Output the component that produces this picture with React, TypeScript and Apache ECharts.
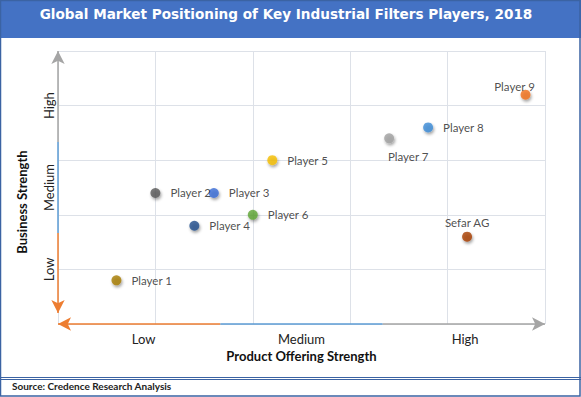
import React, { useEffect, useRef } from "react";
import * as echarts from "echarts";

const players = ["Player 1", "Player 2", "Player 3", "Player 4", "Player 5", "Player 6", "Player 7", "Player 8", "Player 9", "Sefar AG"];
const productStrength = [0.6, 1.0, 1.6, 1.4, 2.2, 2.0, 3.4, 3.8, 4.8, 4.2];
const businessStrength = [0.8, 2.4, 2.4, 1.8, 3.0, 2.0, 3.4, 3.6, 4.2, 1.6];
const playerColors = ["#a67c00", "#595959", "#3a6ad4", "#1f4e8c", "#f5be00", "#5fa535", "#a0a0a0", "#3b8bd6", "#f0701c", "#a83f06"];
const labelPlacement = ["right", "right", "right", "right", "right", "right", "below", "right", "above", "above"];

const levelLabels = ["Low", "Medium", "High"];
const xLevelValues = [0.88, 2.5, 4.18];
const yLevelValues = [1, 2.5, 4];

const title = "Global Market Positioning of Key Industrial Filters Players, 2018";
const xName = "Product Offering Strength";
const yName = "Business Strength";
const source = "Source: Credence Research Analysis";

const FONT = "Lato, 'Open Sans', sans-serif";

export default function App() {
  const ref = useRef<HTMLDivElement>(null);
  useEffect(() => {
    if (!ref.current) return;
    const chart = echarts.init(ref.current, null, { renderer: "svg" });

    const labelFor = (p: string) => {
      if (p === "below") return { position: "bottom", offset: [19, 2] };
      if (p === "above") return { position: "top", distance: 3 };
      return { position: "right", distance: 10 };
    };

    const data = players.map((name, i) => {
      const lp: any = labelFor(labelPlacement[i]);
      const item: any = {
        name,
        value: [productStrength[i], businessStrength[i]],
        itemStyle: { color: playerColors[i] },
        label: { show: true, formatter: name, ...lp },
      };
      if (name === "Player 9") item.label.offset = [-11, 6];
      return item;
    });

    const third = 5 / 3;
    const seg = (a: number[], b: number[], color: string, arrowEnd: boolean) => [
      { coord: a, symbol: "none", lineStyle: { color, width: 1.5, type: "solid" } },
      { coord: b, symbol: arrowEnd ? "arrow" : "none" },
    ];

    chart.setOption({
      animation: false,
      backgroundColor: "#ffffff",
      grid: { left: 58, right: 36, top: 51, bottom: 73, outerBoundsMode: "none" },
      xAxis: {
        type: "value",
        min: 0,
        max: 5,
        interval: 1,
        axisLine: { show: false },
        axisTick: { show: false },
        splitLine: { show: true, lineStyle: { color: "#dde1e8", width: 1 } },
        axisLabel: {
          customValues: xLevelValues,
          formatter: (v: number) => levelLabels[xLevelValues.indexOf(v)] ?? "",
          color: "#222",
          fontFamily: FONT,
          fontSize: 13,
          margin: 8,
        },
        name: xName,
        nameLocation: "middle",
        nameGap: 21,
        nameTextStyle: { color: "#111", fontFamily: FONT, fontSize: 13, fontWeight: "bold" },
      },
      yAxis: {
        type: "value",
        min: 0,
        max: 5,
        interval: 1,
        axisLine: { show: false },
        axisTick: { show: false },
        splitLine: { show: true, lineStyle: { color: "#dde1e8", width: 1 } },
        axisLabel: {
          customValues: yLevelValues,
          formatter: (v: number) => levelLabels[yLevelValues.indexOf(v)] ?? "",
          rotate: 90,
          color: "#222",
          fontFamily: FONT,
          fontSize: 13,
          margin: 3,
        },
      },
      series: [
        {
          type: "scatter",
          symbol: "circle",
          symbolSize: 10,
          data,
          itemStyle: { shadowBlur: 3, shadowColor: "rgba(0,0,0,0.45)", shadowOffsetX: 1, shadowOffsetY: 2 },
          label: { color: "#222", fontFamily: FONT, fontSize: 11.5 },
          emphasis: { disabled: true },
          markLine: {
            silent: true,
            animation: false,
            symbolSize: [10, 13],
            label: { show: false },
            emphasis: { disabled: true },
            data: [
              seg([third, 0], [0, 0], "#ed7d31", true),
              seg([third, 0], [2 * third, 0], "#5b9bd5", false),
              seg([2 * third, 0], [5, 0], "#a5a5a5", true),
              seg([0, third], [0, 0.2], "#ed7d31", true),
              seg([0, third], [0, 2 * third], "#5b9bd5", false),
              seg([0, 2 * third], [0, 5], "#a5a5a5", true),
            ],
          },
        },
      ],
      graphic: [
        { type: "rect", shape: { x: 0, y: 0, width: 581, height: 38 }, style: { fill: "#4472c4" }, z: 0 },
        {
          type: "text",
          x: 286,
          y: 14,
          style: {
            text: title,
            fill: "#ffffff",
            font: "bold 13.6px 'DejaVu Sans', sans-serif",
            align: "center",
            verticalAlign: "middle",
          },
        },
        { type: "line", shape: { x1: 0, y1: 377.5, x2: 581, y2: 377.5 }, style: { stroke: "#3b63a3", lineWidth: 1 } },
        { type: "line", shape: { x1: 0, y1: 379.5, x2: 581, y2: 379.5 }, style: { stroke: "#3b63a3", lineWidth: 1 } },
        {
          type: "rect",
          shape: { x: 0.5, y: 0.5, width: 579.5, height: 395.5 },
          style: { fill: "none", stroke: "#3b63a3", lineWidth: 1.5 },
        },
        {
          type: "text",
          x: 12,
          y: 386,
          style: { text: source, fill: "#222", font: "bold 10px Lato, sans-serif", verticalAlign: "middle" },
        },
        {
          type: "text",
          x: 22,
          y: 202,
          rotation: Math.PI / 2,
          style: {
            text: yName,
            fill: "#111",
            font: "bold 13px Lato, sans-serif",
            align: "center",
            verticalAlign: "middle",
          },
        },
      ],
    });
    return () => chart.dispose();
  }, []);
  return <div ref={ref} style={{ position: "absolute", left: 0, top: 0, width: 581, height: 397 }} />;
}
